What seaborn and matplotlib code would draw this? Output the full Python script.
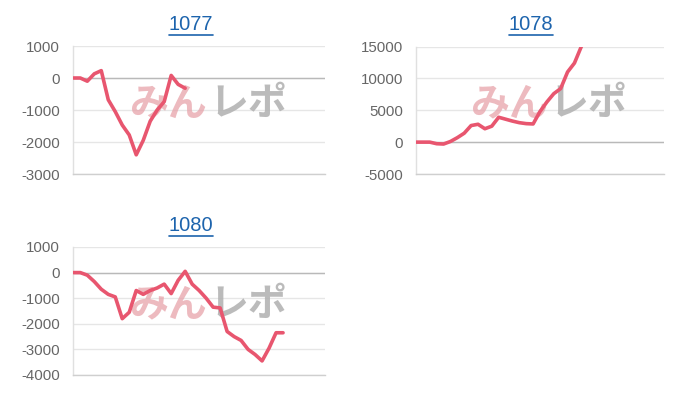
import numpy as np
import pandas as pd
import matplotlib
matplotlib.use("Agg")
import matplotlib.pyplot as plt
from matplotlib.lines import Line2D
import seaborn as sns

# slot index 0..36 on the shared category axis
N_SLOTS = 36

titles = ["1077", "1078", "1080"]

diff_1077 = [0, 0, -100, 130, 230, -680, -1050, -1470, -1780, -2400,
             -1950, -1350, -1000, -740, 80, -200, -320]
diff_1078 = [0, 0, 0, -250, -300, 100, 700, 1400, 2600, 2800, 2100, 2500,
             3900, 3600, 3300, 3050, 2900, 2850, 4800, 6300, 7600, 8400,
             11000, 12400, 15000]
diff_1080 = [0, 0, -100, -350, -650, -850, -950, -1800, -1550, -700, -850,
             -700, -600, -450, -820, -300, 50, -450, -700, -1000, -1350,
             -1380, -2300, -2500, -2650, -3000, -3200, -3450, -2950, -2350,
             -2350]

yticks_1077 = [1000, 0, -1000, -2000, -3000]
yticks_1078 = [15000, 10000, 5000, 0, -5000]
yticks_1080 = [1000, 0, -1000, -2000, -3000, -4000]

sns.set_theme(style="white")
plt.rcParams['font.family'] = ['Liberation Sans', 'Noto Sans CJK JP', 'DejaVu Sans']

LINE = '#e8566f'
TITLE_C = '#1d64ad'

fig = plt.figure(figsize=(7, 4), dpi=100)
W, H = 700, 400


def px_axes(left, top, right, bottom):
    return fig.add_axes([left / W, 1 - bottom / H, (right - left) / W, (bottom - top) / H])


panels = [
    (px_axes(73.3, 46, 325, 174), diff_1077, yticks_1077, titles[0], (191, 24)),
    (px_axes(416, 46.5, 664, 174), diff_1078, yticks_1078, titles[1], (531, 24)),
    (px_axes(73.3, 247, 325, 375), diff_1080, yticks_1080, titles[2], (191, 226)),
]

for ax, vals, ticks, title, (tx, ty) in panels:
    df = pd.DataFrame({'slot': np.arange(len(vals)), 'diff': vals})
    ax.set_xlim(0, N_SLOTS)
    ax.set_ylim(min(ticks), max(ticks))
    ax.set_yticks(ticks)
    ax.set_yticklabels([str(t) for t in ticks])
    ax.set_xticks([])
    ax.yaxis.grid(True, color='#e6e6e6', lw=1)
    ax.set_axisbelow(True)
    ax.axhline(0, color='#b9b9b9', lw=1, zorder=1)
    for s in ['top', 'right']:
        ax.spines[s].set_visible(False)
    ax.spines['left'].set_color('#e0e0e0')
    ax.spines['bottom'].set_color('#cfcfcf')
    ax.spines['left'].set_linewidth(1)
    ax.spines['bottom'].set_linewidth(1)
    ax.tick_params(axis='y', length=0, pad=9.5, labelsize=10.8, labelcolor='#666666')

    # watermark
    cx = 0.53
    ax.text(cx, 0.55, 'みん', transform=ax.transAxes, ha='right', va='center',
            fontsize=28, fontweight='bold', color='#e7a3aa', alpha=0.75,
            family=['Noto Sans CJK JP'], zorder=2)
    ax.text(cx + 0.01, 0.55, 'レポ', transform=ax.transAxes, ha='left', va='center',
            fontsize=28, fontweight='bold', color='#b0b0b0', alpha=0.85,
            family=['Noto Sans CJK JP'], zorder=2)

    sns.lineplot(data=df, x='slot', y='diff', ax=ax, color=LINE, lw=2.6,
                 zorder=3, clip_on=True)
    ax.set_xlabel(''); ax.set_ylabel('')

    fig.text(tx / W, 1 - ty / H, title, ha='center', va='center',
             fontsize=14.5, color=TITLE_C)

# underline the titles (they are links in the original)
fig.canvas.draw()
rend = fig.canvas.get_renderer()
for t in fig.texts[:]:
    bb = t.get_window_extent(rend)
    y = bb.y0 - 1
    fig.add_artist(Line2D([bb.x0 / W, bb.x1 / W], [y / H, y / H],
                          color=TITLE_C, lw=1.2, transform=fig.transFigure))

fig.savefig('out.png', dpi=100)
